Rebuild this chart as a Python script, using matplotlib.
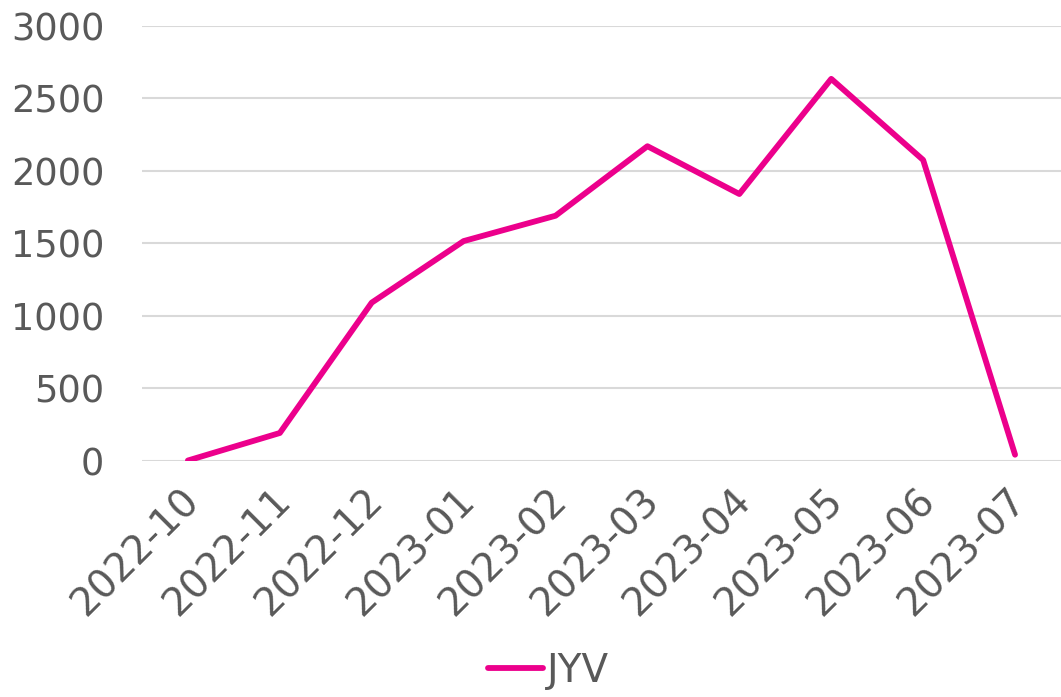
import matplotlib.pyplot as plt
from matplotlib.transforms import ScaledTranslation

months = ['2022-10', '2022-11', '2022-12', '2023-01', '2023-02',
          '2023-03', '2023-04', '2023-05', '2023-06', '2023-07']
jyv = [0, 190, 1090, 1515, 1690, 2170, 1840, 2635, 2075, 40]

gray = '#595959'
fig = plt.figure(figsize=(10.61, 6.97), dpi=100)
ax = fig.add_axes([0.1338, 0.3393, 0.8662, 0.6234])

x = range(len(months))
ax.plot(x, jyv, color='#EC008C', lw=4.2, solid_capstyle='round',
        solid_joinstyle='round', label='JYV')

ax.set_xlim(-0.5, len(months) - 0.5)
ax.set_ylim(0, 3000)
ax.set_yticks(range(0, 3001, 500))
ax.set_xticks(list(x))
ax.set_xticklabels(months, rotation=45, ha='right', rotation_mode='anchor')
ax.grid(axis='y', color='#d9d9d9', lw=1.5)
ax.set_axisbelow(True)
for s in ax.spines.values():
    s.set_visible(False)
ax.tick_params(axis='y', length=0, pad=27, labelsize=26.5, labelcolor=gray)
ax.tick_params(axis='x', length=0, pad=15, labelsize=28, labelcolor=gray)

# nudge rotated labels a bit to the left
shift = ScaledTranslation(-8 / 100, 0, fig.dpi_scale_trans)
for lbl in ax.get_xticklabels():
    lbl.set_transform(lbl.get_transform() + shift)

fig.legend(loc='lower center', bbox_to_anchor=(0.517, -0.04), frameon=False,
           fontsize=28, labelcolor=gray, handlelength=1.4, handletextpad=0.1)

fig.savefig('out.png', dpi=100)
